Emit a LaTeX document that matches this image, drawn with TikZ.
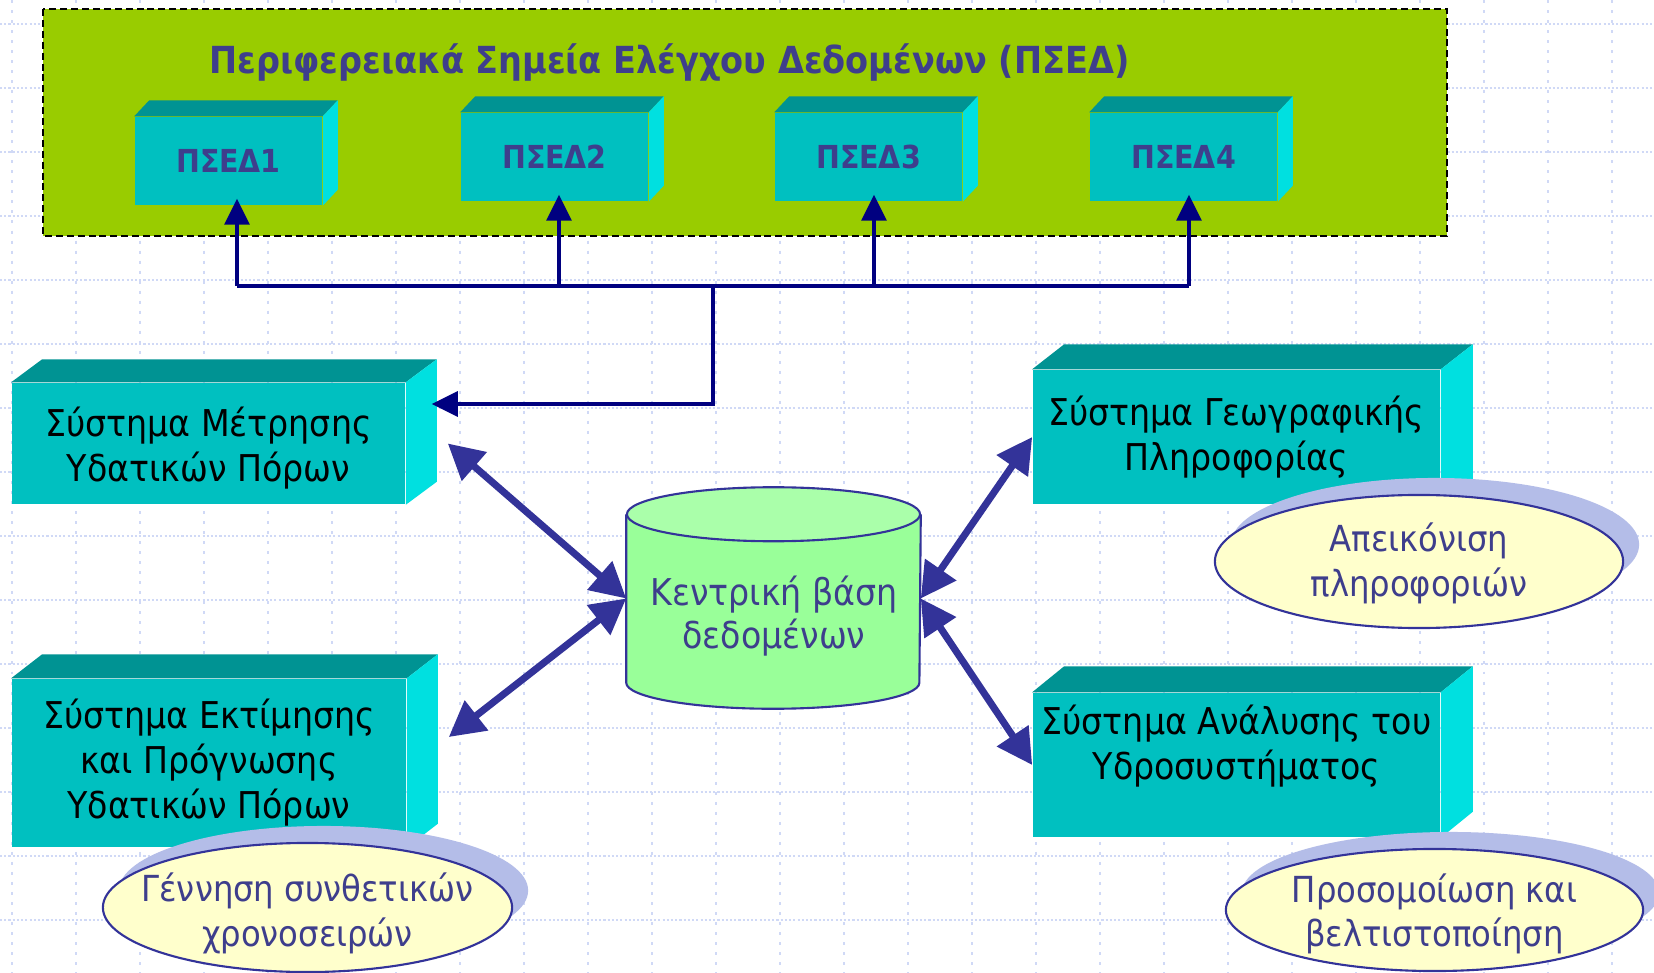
\documentclass[tikz,border=0pt]{standalone}
\usepackage{fontspec}
\setmainfont{DejaVu Sans Condensed}
\usetikzlibrary{arrows.meta,shapes.geometric,shadows}

\definecolor{gridblue}{RGB}{208,217,246}
\definecolor{panelgreen}{RGB}{153,204,0}
\definecolor{tealfront}{RGB}{0,192,192}
\definecolor{tealtop}{RGB}{0,147,147}
\definecolor{tealside}{RGB}{0,224,224}
\definecolor{navyline}{RGB}{0,0,128}
\definecolor{linkblue}{RGB}{51,51,153}
\definecolor{labelblue}{RGB}{62,62,140}
\definecolor{noteyellow}{RGB}{255,255,204}
\definecolor{noteshadow}{RGB}{180,189,232}
\definecolor{dbgreen}{RGB}{153,255,153}
\definecolor{dbtop}{RGB}{170,255,170}

% top and right face of a box node: #1 node name, #2 depth shift
\newcommand{\boxsides}[2]{%
  \fill[tealtop] (#1.north west) -- ++(#2) -- ([shift={(#2)}]#1.north east) -- (#1.north east) -- cycle;
  \fill[tealside] (#1.north east) -- ([shift={(#2)}]#1.north east) -- ([shift={(#2)}]#1.south east) -- (#1.south east) -- cycle;}

\begin{document}
\begin{tikzpicture}[x=0.01cm,y=-0.01cm,
  gridh/.style={gridblue,line width=0.6pt,dash pattern=on 0.6pt off 0.6pt},
  gridv/.style={gridblue,line width=0.6pt,dash pattern=on 0.85pt off 2pt},
  panel/.style={fill=panelgreen,draw=black,line width=0.45pt,dash pattern=on 2pt off 1.1pt},
  psed/.style={rectangle,fill=tealfront,inner sep=0pt,minimum width=1.87cm,minimum height=0.88cm,
    text=labelblue,font=\bfseries\fontsize{9}{10}\selectfont},
  sysbox/.style={rectangle,fill=tealfront,inner sep=0pt,align=center,
    font=\fontsize{10.5}{12.8}\selectfont},
  note/.style={ellipse,fill=noteyellow,draw=linkblue,line width=0.6pt,inner sep=0pt,
    general shadow={fill=noteshadow,shadow xshift=0.16cm,shadow yshift=0.17cm}},
  notetext/.style={align=center,text=labelblue,font=\fontsize{10.2}{12.6}\selectfont},
  busline/.style={navyline,line width=1pt},
  bustip/.style={-{Triangle[length=7.4pt,width=7.1pt]},shorten >=-2pt},
  link/.style={linkblue,line width=2pt,{Triangle[length=10pt,width=10.4pt]}-{Triangle[length=10pt,width=10.4pt]}}]

\useasboundingbox[fill=white] (0,0) rectangle (1654,973);
% background grid
\foreach \gy in {24,88,...,920} \draw[gridh] (0,\gy) -- (1654,\gy);
\foreach \gx in {12,76,...,1612} \draw[gridv] (\gx,0) -- (\gx,973);

% peripheral control points
\draw[panel] (43,9) rectangle (1447,236);
\node[text=labelblue,font=\bfseries\fontsize{10.6}{12}\selectfont] (head) at (669.5,62) {Περιφερειακά Σημεία Ελέγχου Δεδομένων (ΠΣΕΔ)};
\node[psed] (p1) at (228.5,161) {ΠΣΕΔ1};
\node[psed] (p2) at (554.5,157) {ΠΣΕΔ2};
\node[psed] (p3) at (868.5,157) {ΠΣΕΔ3};
\node[psed] (p4) at (1183.5,157) {ΠΣΕΔ4};
\foreach \i in {1,...,4} {\boxsides{p\i}{15,-16}}

\coordinate (t1) at (237,286);
\coordinate (t2) at (559,286);
\coordinate (t3) at (874,286);
\coordinate (t4) at (1189,286);
\coordinate (hub) at (713,286);
\draw[busline] (t1) -- (t4);
\foreach \i in {1,...,4} \draw[busline,bustip] (t\i) -- (t\i |- p\i.south);

% subsystems
\node[sysbox,minimum width=3.93cm,minimum height=1.21cm] (b1) at (208.5,443.5) {\rule{0pt}{1.05em}Σύστημα Μέτρησης\\Υδατικών Πόρων};
\node[sysbox,minimum width=3.94cm,minimum height=1.68cm] (b2) at (209,763) {Σύστημα Εκτίμησης\\και Πρόγνωσης\\Υδατικών Πόρων};
\node[sysbox,minimum width=4.07cm,minimum height=1.34cm] (b3) at (1236.5,437) {Σύστημα Γεωγραφικής\\Πληροφορίας};
\node[sysbox,minimum width=4.07cm,minimum height=1.44cm] (b4) at (1236.5,765) {Σύστημα Ανάλυσης του\\Υδροσυστήματος\\\mbox{}};
\boxsides{b1}{31,-23}
\boxsides{b2}{31,-24}
\boxsides{b3}{32,-25}
\boxsides{b4}{32,-26}

\draw[busline,-{Triangle[length=7.4pt,width=7.1pt]}] (hub) |- ([shift={(26,-39.5)}]b1.east);

% central database
\node[rectangle,inner sep=0pt,minimum width=2.93cm,minimum height=1.67cm] (db) at (773.5,598.5) {};
\fill[dbgreen] (db.north west) -- (db.south west) arc[start angle=180,end angle=360,x radius=1.465cm,y radius=0.26cm] -- (db.north east) -- cycle;
\draw[linkblue,line width=0.6pt] (db.north west) -- (db.south west) arc[start angle=180,end angle=360,x radius=1.465cm,y radius=0.26cm] -- (db.north east);
\filldraw[fill=dbtop,draw=linkblue,line width=0.6pt] (db.north) ellipse[x radius=1.465cm,y radius=0.27cm];
\node[align=center,text=labelblue,font=\fontsize{10.5}{12}\selectfont] (dbt) at (774,616) {Κεντρική βάση\\δεδομένων};

\draw[link] ([xshift=0.42cm]b1.east) -- (db.west);
\draw[link] ([shift={(42,-26)}]b2.east) -- (db.west);
\draw[link] (b3.west) -- (db.east);
\draw[link] (b4.west) -- (db.east);

% notes
\node[note,minimum width=4.08cm,minimum height=1.33cm] (e1) at (1419,561.5) {};
\node[notetext] (e1t) at ([yshift=-0.02cm]e1) {Απεικόνιση\\πληροφοριών};
\node[note,minimum width=4.09cm,minimum height=1.29cm] (e2) at (307.5,907.5) {};
\node[notetext] (e2t) at ([yshift=-0.06cm]e2) {Γέννηση συνθετικών\\χρονοσειρών};
\node[note,minimum width=4.17cm,minimum height=1.22cm] (e3) at (1434.5,910) {};
\node[notetext] (e3t) at ([yshift=-0.04cm]e3) {Προσομοίωση και\\βελτιστοποίηση};
\end{tikzpicture}
\end{document}
